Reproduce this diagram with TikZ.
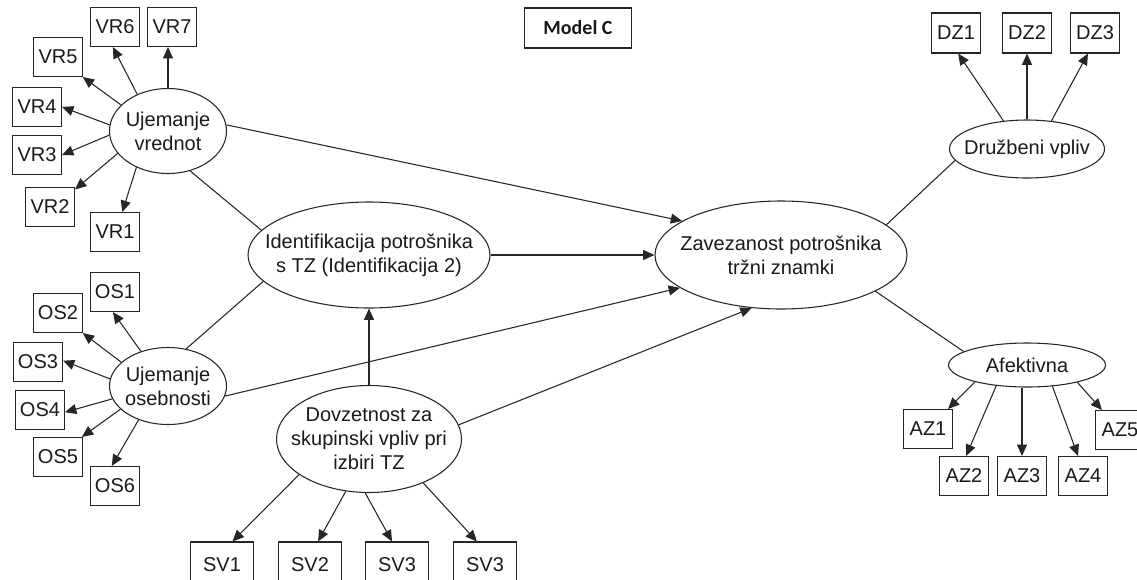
\documentclass[tikz,border=0pt]{standalone}
\usepackage{fontspec}
\setmainfont{Liberation Sans}
\newfontfamily\titlefont{Carlito}
\usetikzlibrary{shapes.geometric,arrows.meta}
\begin{document}
\begin{tikzpicture}[x=0.75pt,y=-0.75pt,
  every node/.style={font=\fontsize{15pt}{18pt}\selectfont, text=black!90},
  indicator/.style={draw=black!85, line width=0.8pt, rectangle, inner sep=0pt,
    minimum width=36.75pt, minimum height=29.25pt},
  wideind/.style={indicator, minimum width=47.25pt, minimum height=34.5pt},
  latent/.style={draw=black!85, line width=0.8pt, ellipse, inner sep=0pt},
  effect/.style={draw=black!85, line width=0.8pt, -{Triangle[length=8.5pt,width=7.5pt]}},
  assoc/.style={draw=black!85, line width=0.8pt}
]
\useasboundingbox (0,0) rectangle (1137,579);
\clip (0,0) rectangle (1137,579);

% title
\node[draw=black!85, line width=0.8pt, minimum width=80.25pt, minimum height=30pt,
  inner sep=0pt, font=\titlefont\bfseries\fontsize{15pt}{18pt}\selectfont] (title) at (578,28) {Model C};

% latent constructs
\node[latent, minimum width=87.75pt, minimum height=63.75pt,
  label={[align=center]center:{Ujemanje\\vrednot}}] (uv) at (168,131) {};
\node[latent, minimum width=87.75pt, minimum height=57.75pt,
  label={[align=center]center:{Ujemanje\\osebnosti}}] (uo) at (168,386) {};
\node[latent, minimum width=181.5pt, minimum height=79.5pt,
  label={[align=center]center:{Identifikacija potrošnika\\s TZ (Identifikacija 2)}}] (ident) at (369,255) {};
\node[latent, minimum width=138.75pt, minimum height=80.25pt,
  label={[align=center]center:{Dovzetnost za\\skupinski vpliv pri\\izbiri TZ}}] (dovz) at (369,439) {};
\node[latent, minimum width=189pt, minimum height=81pt,
  label={[align=center]center:{Zavezanost potrošnika\\tržni znamki}}] (zav) at (781,255) {};
\node[latent, minimum width=116.25pt, minimum height=43.5pt,
  label={center:Družbeni vpliv}] (dv) at (1027,149) {};
\node[latent, minimum width=117.75pt, minimum height=33pt,
  label={center:Afektivna}] (af) at (1027,365) {};

% indicators of value congruence
\node[indicator] (vr6) at (115,27) {VR6};
\node[indicator] (vr7) at (172,27) {VR7};
\node[indicator] (vr5) at (58,57) {VR5};
\node[indicator] (vr4) at (37,107) {VR4};
\node[indicator] (vr3) at (37,155) {VR3};
\node[indicator] (vr2) at (50,207) {VR2};
\node[indicator] (vr1) at (115,232) {VR1};

% indicators of personality congruence
\node[indicator] (os1) at (115,292) {OS1};
\node[indicator] (os2) at (58,313) {OS2};
\node[indicator] (os3) at (38,362) {OS3};
\node[indicator] (os4) at (40,410) {OS4};
\node[indicator] (os5) at (58,457) {OS5};
\node[indicator] (os6) at (115,486) {OS6};

% indicators of susceptibility to group influence
\node[wideind] (sv1) at (222,565) {SV1};
\node[wideind] (sv2) at (310,565) {SV2};
\node[wideind] (sv3) at (397,565) {SV3};
\node[wideind] (sv3b) at (485,565) {SV3};

% indicators of social influence
\node[indicator, minimum height=30pt] (dz1) at (956,33) {DZ1};
\node[indicator, minimum height=30pt] (dz2) at (1027,33) {DZ2};
\node[indicator, minimum height=30pt] (dz3) at (1095,33) {DZ3};

% indicators of affective commitment
\node[indicator] (az1) at (928,429) {AZ1};
\node[indicator] (az2) at (964,476) {AZ2};
\node[indicator] (az3) at (1022,476) {AZ3};
\node[indicator] (az4) at (1083,476) {AZ4};
\node[indicator] (az5) at (1120,430) {AZ5};

% measurement arrows
\draw[effect] (uv.130) -- (vr6.264);
\draw[effect] (uv.north) -- (uv.north |- vr7.south);
\draw[effect] (uv.151) -- (vr5.321);
\draw[effect] (uv.174) -- (vr4.east);
\draw[effect] (uv.184) -- (vr3.east);
\draw[effect] (uv.204) -- (vr2.35);
\draw[effect] (uv.229) -- (vr1.70);

\draw[effect] (uo.128) -- (os1.264);
\draw[effect] (uo.153) -- (os2.321);
\draw[effect] (uo.173) -- (os3.3);
\draw[effect] (uo.193) -- (os4.355);
\draw[effect] (uo.206) -- (os5.40);
\draw[effect] (uo.229) -- (os6.99);

\draw[effect] (dovz.207) -- (sv1.66);
\draw[effect] (dovz.246) -- (sv2.71);
\draw[effect] (dovz.266) -- (sv3.102);
\draw[effect] (dovz.321) -- (sv3b.109);

\draw[effect] (dv.130) -- (dz1.276);
\draw[effect] (dv.north) -- (dz2.south);
\draw[effect] (dv.49) -- (dz3.251);

\draw[effect] (af.198) -- (az1.45);
\draw[effect] (af.214) -- (az2.84);
\draw[effect] (az3 |- af.south) -- (az3.north);
\draw[effect] (af.320) -- (az4.104);
\draw[effect] (af.341) -- (az5.132);

% structural paths
\draw[effect] (uv.6) -- (zav.161);
\draw[assoc] (uv.-61) -- (ident.167);
\draw[assoc] (uo.64) -- (ident.-166);
\draw[effect] (uo.-10) -- (zav.198);
\draw[effect] (ident.east) -- (zav.west);
\draw[effect] (dovz.north) -- (ident.south);
\draw[effect] (dovz.9) -- (zav.241);
\draw[assoc] (zav.16) -- (dv.-171);
\draw[assoc] (zav.-21) -- (af.168);
\end{tikzpicture}
\end{document}
